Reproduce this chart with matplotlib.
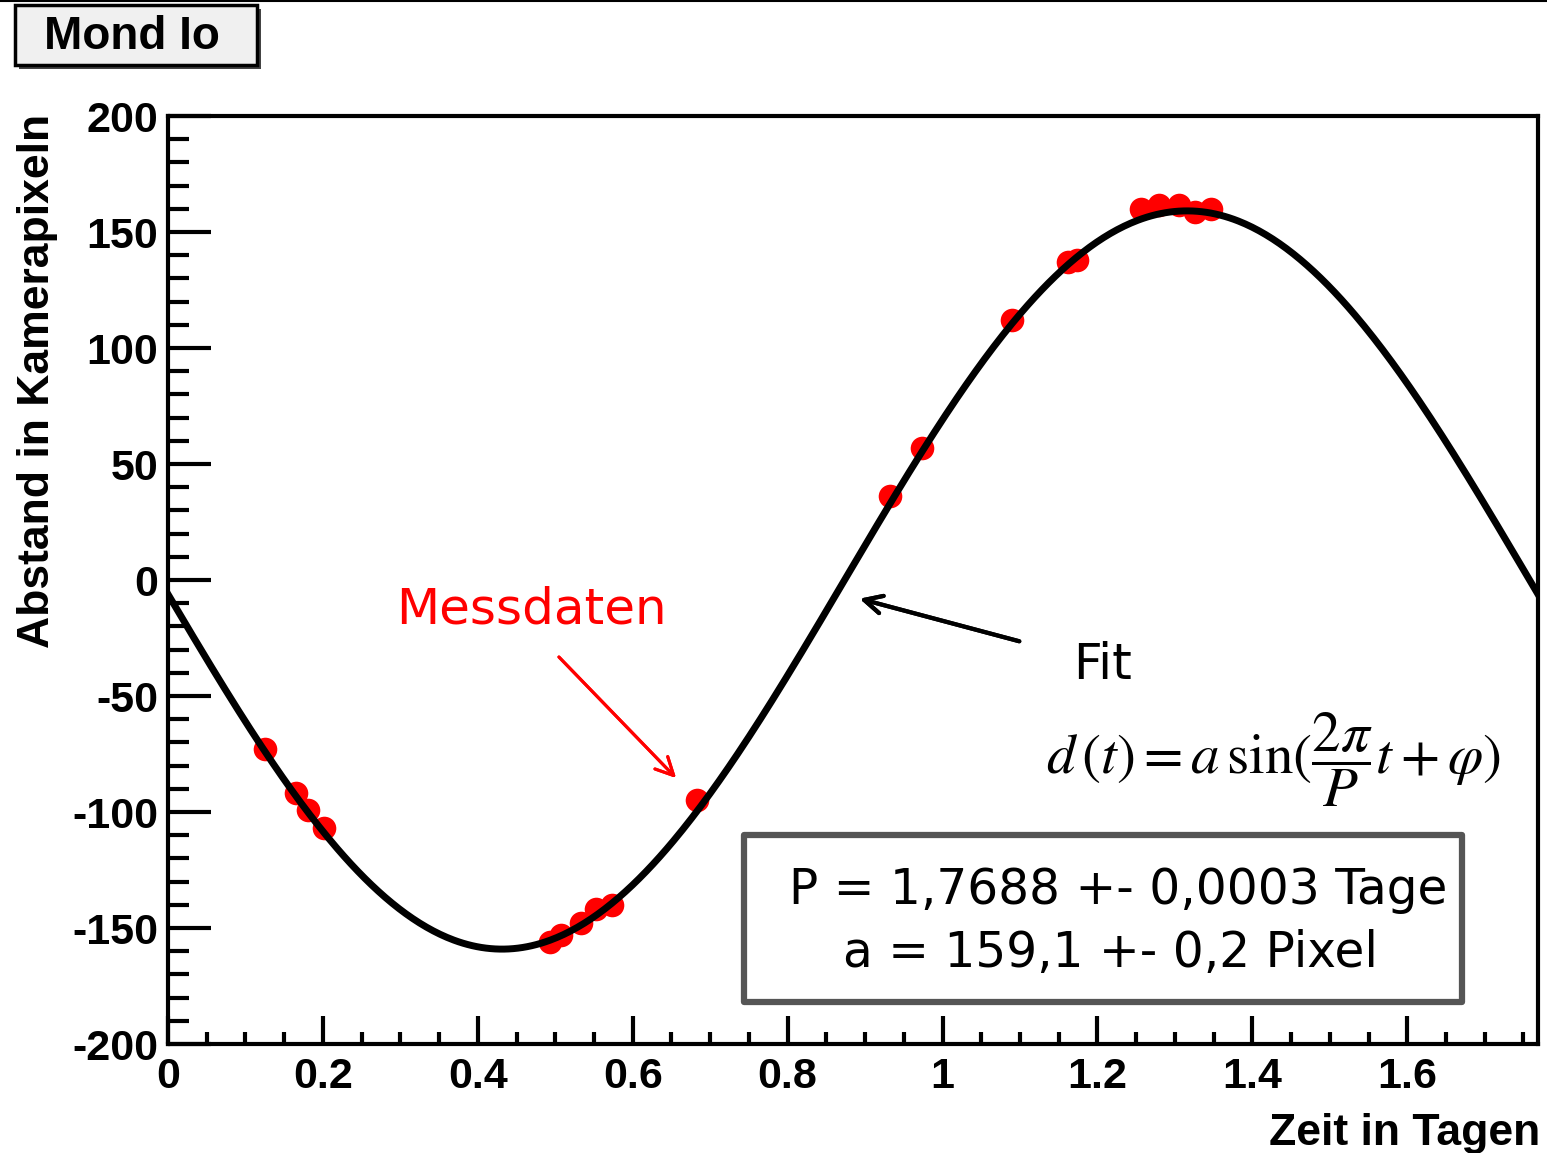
import numpy as np
import matplotlib.pyplot as plt
from matplotlib.patches import Rectangle

plt.rcParams['axes.unicode_minus'] = False
plt.rcParams['mathtext.fontset'] = 'stix'

W, H = 1547, 1153

t_mess = [0.125, 0.165, 0.181, 0.201, 0.493, 0.507, 0.533, 0.553, 0.573, 0.683,
          0.932, 0.974, 1.090, 1.162, 1.173, 1.256, 1.280, 1.305, 1.326, 1.347]
d_mess = [-73, -92, -99, -107, -156, -153, -148, -142, -140, -95,
          36, 57, 112, 137, 138, 160, 161.5, 161.5, 158.5, 160]

# Fitparameter
P = 1.7688
a = 159.1
phi = -3.103

x_ticks = [0, 0.2, 0.4, 0.6, 0.8, 1.0, 1.2, 1.4, 1.6]
x_labels = ['0', '0.2', '0.4', '0.6', '0.8', '1', '1.2', '1.4', '1.6']
y_ticks = [-200, -150, -100, -50, 0, 50, 100, 150, 200]
y_labels = ['-200', '-150', '-100', '-50', '0', '50', '100', '150', '200']


def px(x, y):
    # Pixel (oben links) -> figure fraction
    return (x / W, 1 - y / H)


fig = plt.figure(figsize=(W / 100, H / 100), dpi=100)
ax = fig.add_axes([168 / W, 1 - 1044 / H, (1538 - 168) / W, (1044 - 116) / H])

t_fit = np.linspace(0, P, 600)
d_fit = a * np.sin(2 * np.pi / P * t_fit + phi)

ax.plot(t_mess, d_mess, 'o', color='#ff0000', markersize=17, markeredgewidth=0, zorder=2)
ax.plot(t_fit, d_fit, color='black', lw=5, zorder=3)

ax.set_xlim(0, P)
ax.set_ylim(-200, 200)
ax.set_xticks(x_ticks)
ax.set_xticklabels(x_labels)
ax.set_yticks(y_ticks)
ax.set_yticklabels(y_labels)
ax.set_xticks(np.arange(0, 1.76, 0.05), minor=True)
ax.set_yticks(np.arange(-200, 201, 10), minor=True)

for s in ax.spines.values():
    s.set_linewidth(3)
ax.tick_params(which='both', direction='in', top=False, right=False, width=3)
ax.tick_params(axis='x', which='major', length=20, pad=9)
ax.tick_params(axis='x', which='minor', length=9)
ax.tick_params(axis='y', which='major', length=31, pad=7)
ax.tick_params(axis='y', which='minor', length=15)
for lab in ax.get_xticklabels() + ax.get_yticklabels():
    lab.set_fontfamily('Liberation Sans')
    lab.set_fontweight('bold')
    lab.set_fontsize(31)

ax.set_xlabel('Zeit in Tagen', fontsize=32, fontweight='bold', family='Liberation Sans', loc='right')
ax.xaxis.set_label_coords(1.002, -0.074)
ax.set_ylabel('Abstand in Kamerapixeln', fontsize=32, fontweight='bold', family='Liberation Sans', loc='top')
ax.yaxis.set_label_coords(-0.08, 1.002)

# Rahmen oben
fig.add_artist(plt.Line2D([0, 1], [1 - 1 / H, 1 - 1 / H], color='black', lw=1.5))

# Titelbox
x0, y0 = px(15, 65)
fig.add_artist(Rectangle((x0 + 4 / W, y0 - 4 / H), 242 / W, 60 / H, transform=fig.transFigure,
                         facecolor='#444444', edgecolor='none'))
fig.add_artist(Rectangle((x0, y0), 242 / W, 60 / H, transform=fig.transFigure,
                         facecolor='#f0f0f0', edgecolor='black', lw=2.5))
fig.text(*px(132, 37), 'Mond Io', fontsize=33, fontweight='bold', family='Liberation Sans',
         ha='center', va='center')

# Beschriftungen
fig.text(*px(531, 610), 'Messdaten', color='#ff0000', fontsize=36, ha='center', va='center')
fig.add_artist(plt.annotate('', xy=px(678, 780), xytext=px(557, 655), xycoords='figure fraction',
                            arrowprops=dict(arrowstyle='->', color='#ff0000', lw=2.2,
                                            mutation_scale=32)))
fig.text(*px(1103, 665), 'Fit', color='black', fontsize=36, ha='center', va='center')
fig.add_artist(plt.annotate('', xy=px(857, 598), xytext=px(1022, 642), xycoords='figure fraction',
                            arrowprops=dict(arrowstyle='->', color='black', lw=3,
                                            mutation_scale=32)))
fig.text(*px(1273, 760), r'$d\,(t) = a\,\sin(\dfrac{2\pi}{P}t+\varphi)$', fontsize=41,
         ha='center', va='center')

# Ergebnisbox
bx, by = px(744, 1002)
fig.add_artist(Rectangle((bx, by), (1462 - 744) / W, (1002 - 835) / H, transform=fig.transFigure,
                         facecolor='white', edgecolor='#555555', lw=4.5, joinstyle='round'))
fig.text(*px(1118, 890), 'P = 1,7688 +- 0,0003 Tage', fontsize=35, ha='center', va='center')
fig.text(*px(1110, 953), 'a = 159,1 +- 0,2 Pixel', fontsize=35, ha='center', va='center')

fig.savefig('out.png', dpi=100)
